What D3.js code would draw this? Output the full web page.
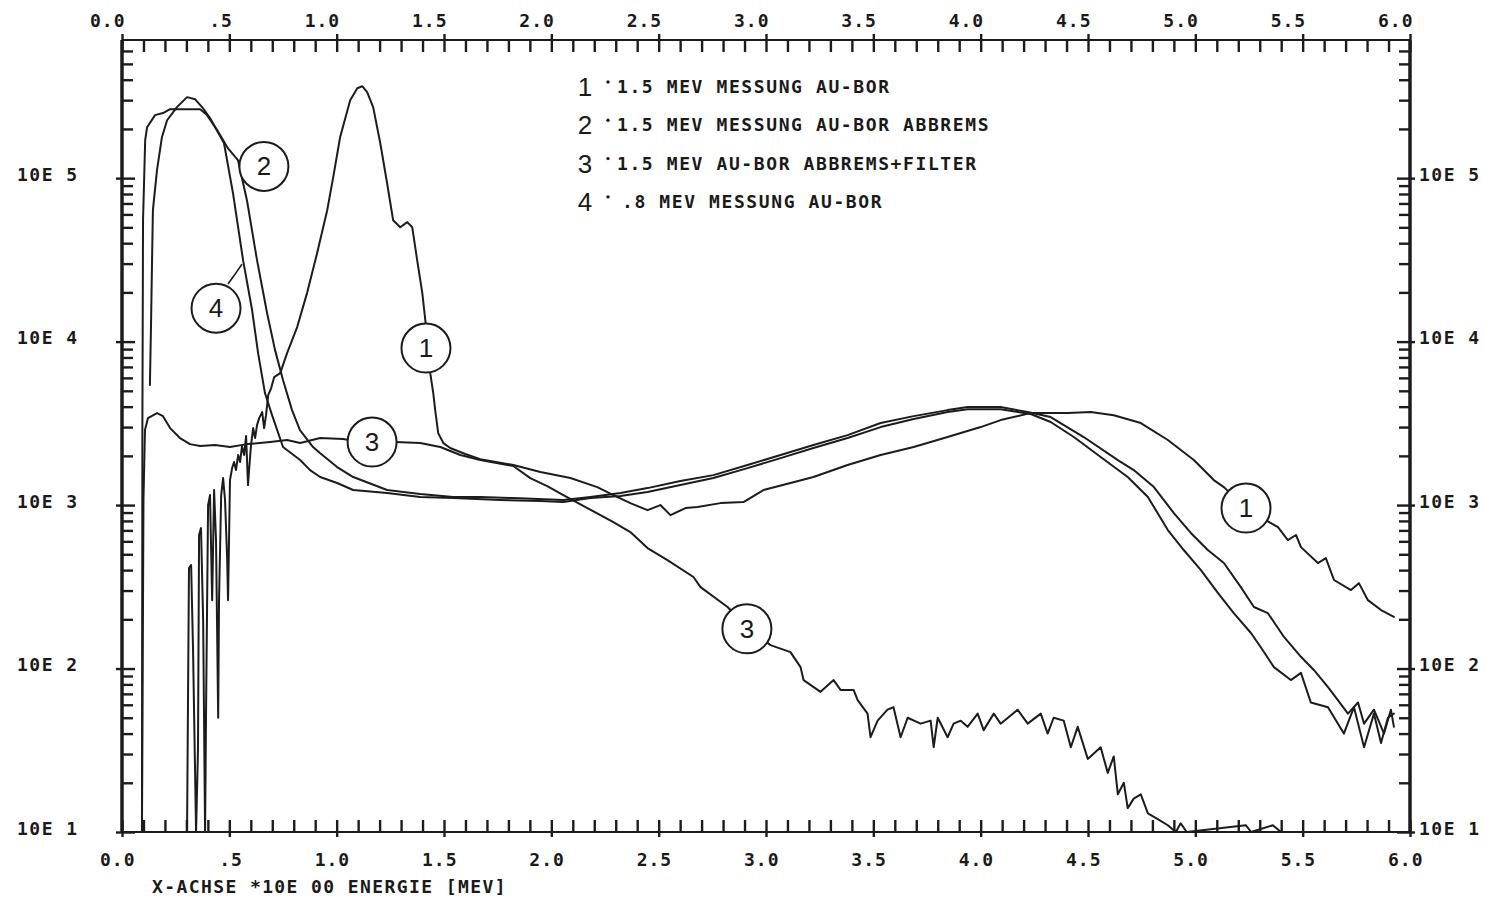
<!DOCTYPE html>
<html>
<head>
<meta charset="utf-8">
<script src="https://cdn.jsdelivr.net/npm/d3@7/dist/d3.min.js"></script>
<style>
  html,body{margin:0;padding:0;background:#fff;}
  svg{display:block;background:#fff;}
  .lbl{font-family:"DejaVu Sans Mono",monospace;font-weight:bold;fill:#1a1a1a;}
  .num{font-family:"Liberation Sans",Arial,sans-serif;fill:#1a1a1a;}
</style>
</head>
<body>
<svg id="chart" width="1485" height="901"></svg>
<script>
// ---------------- DATA ----------------
const xTickValues = [0, 0.5, 1, 1.5, 2, 2.5, 3, 3.5, 4, 4.5, 5, 5.5, 6];
const xTickLabels = ["0.0", ".5", "1.0", "1.5", "2.0", "2.5", "3.0", "3.5", "4.0", "4.5", "5.0", "5.5", "6.0"];
const yTickValues = [10, 100, 1000, 10000, 100000];
const yTickLabels = ["10E 1", "10E 2", "10E 3", "10E 4", "10E 5"];
const xTitle = "X-ACHSE *10E 00 ENERGIE [MEV]";
const legendNumbers = ["1", "2", "3", "4"];
const legendLabels = [
  "1.5 MEV MESSUNG AU-BOR",
  "1.5 MEV MESSUNG AU-BOR ABBREMS",
  "1.5 MEV AU-BOR ABBREMS+FILTER",
  ".8 MEV MESSUNG AU-BOR"
];

// curve 1: 1.5 MEV MESSUNG AU-BOR  [energy MeV, counts]
const series1 = [[0.303,10],[0.312,412],[0.322,430],[0.331,130],[0.345,10],
[0.354,32],[0.359,656],[0.368,723],[0.378,198],[0.387,10],
[0.392,64],[0.401,1000],[0.410,1151],[0.420,262],[0.429,1236],[0.438,611],[0.448,50],[0.452,262],[0.462,1151],
[0.471,1463],[0.480,1074],[0.490,461],[0.494,262],[0.503,1422],[0.513,1683],[0.522,1833],[0.531,1637],[0.541,2024],
[0.550,1833],[0.559,2296],[0.569,2024],[0.578,2643],[0.587,1325],[0.592,1637],[0.601,2330],[0.611,2958],[0.620,2570],
[0.629,3084],[0.639,3404],[0.653,3706],[0.662,2958],[0.671,3548],[0.681,4710],[0.695,5200],[0.709,6070],[0.737,6410],
[0.769,8510],[0.816,12270],[0.862,19800],[0.909,34800],[0.956,63700],[0.984,101400],[1.016,178000],[1.063,300000],
[1.096,355000],[1.119,365000],[1.142,336000],[1.170,272000],[1.203,164000],[1.235,93100],[1.263,55300],[1.296,50100],
[1.329,53800],[1.352,50100],[1.375,31500],[1.399,19800],[1.413,13500],[1.427,9130],[1.436,6410],[1.450,4845],
[1.459,3810],[1.473,2755],[1.497,2395],[1.529,2233],[1.599,2052],[1.669,1910],[1.823,1757],[1.949,1592],[2.089,1463],
[2.214,1288],[2.289,1151],[2.368,1028],[2.448,931],[2.508,1000],[2.555,868],[2.625,959],[2.681,973],[2.788,1028],
[2.895,1043],[2.988,1236],[3.114,1364],[3.221,1484],[3.380,1757],[3.534,2024],[3.688,2265],[3.846,2608],[4.000,3000],
[4.093,3310],[4.233,3655],[4.406,3655],[4.513,3706],[4.620,3548],[4.746,3175],[4.872,2500],[4.993,1885],[5.086,1422],
[5.133,1288],[5.235,959],[5.352,776],[5.385,733],[5.431,611],[5.469,656],[5.492,553],[5.571,442],[5.608,474],
[5.646,348],[5.725,302],[5.762,333],[5.804,262],[5.865,228],[5.925,207]];

// curve 2: 1.5 MEV MESSUNG AU-BOR ABBREMS
const series2 = [[0.093,10],[0.095,3000],[0.098,55300],[0.108,171000],[0.117,205000],[0.154,243000],[0.191,250000],
[0.224,264000],[0.294,264000],[0.364,264000],[0.396,243000],[0.443,197000],[0.494,152000],[0.540,129000],[0.582,73300],
[0.629,31500],[0.676,14900],[0.713,8870],[0.750,5820],[0.792,3810],[0.829,2877],[0.890,2265],[0.922,2080],[1.002,1708],
[1.077,1484],[1.235,1236],[1.389,1167],[1.543,1120],[1.669,1120],[1.823,1104],[2.056,1074],[2.182,1120],[2.322,1184],
[2.448,1270],[2.601,1403],[2.755,1525],[2.914,1757],[3.068,2024],[3.221,2330],[3.380,2680],[3.534,3175],[3.688,3500],
[3.846,3810],[3.939,3975],[4.093,3975],[4.219,3706],[4.326,3453],[4.480,2608],[4.639,1885],[4.713,1637],[4.807,1288],
[4.900,893],[4.979,675],[5.058,531],[5.133,442],[5.212,315],[5.273,238],[5.338,218],[5.413,156],[5.492,118],[5.552,98],
[5.618,77],[5.664,64],[5.711,53],[5.758,62],[5.786,46],[5.832,56],[5.879,40],[5.911,56],[5.925,44]];

// curve 3: 1.5 MEV AU-BOR ABBREMS+FILTER
const series3 = [[0.093,10],[0.100,1074],[0.107,2877],[0.121,3404],[0.163,3655],[0.191,3500],[0.224,2958],[0.270,2570],
[0.317,2360],[0.364,2296],[0.434,2330],[0.503,2265],[0.583,2360],[0.643,2395],[0.690,2430],[0.769,2500],[0.830,2395],
[0.923,2570],[1.030,2535],[1.058,2500],[1.273,2430],[1.389,2395],[1.483,2265],[1.576,2024],[1.669,1885],[1.823,1733],
[1.902,1463],[1.981,1307],[2.056,1151],[2.168,959],[2.289,787],[2.368,684],[2.448,546],[2.541,461],[2.662,363],
[2.695,315],[2.821,238],[2.918,175],[3.021,139],[3.114,126],[3.161,102],[3.175,85],[3.254,72],[3.315,85],[3.347,74],
[3.408,74],[3.427,64],[3.473,53],[3.487,38],[3.520,48],[3.566,56],[3.594,58],[3.627,38],[3.660,50],[3.720,46],
[3.767,48],[3.781,33],[3.800,50],[3.846,38],[3.874,46],[3.907,48],[3.939,44],[3.986,53],[4.014,42],[4.061,53],
[4.093,46],[4.172,56],[4.219,46],[4.280,53],[4.312,40],[4.340,50],[4.387,48],[4.420,33],[4.452,44],[4.499,28],
[4.559,33],[4.592,23],[4.620,29],[4.639,17],[4.667,20],[4.685,14],[4.713,16],[4.746,17],[4.779,13],[4.825,12],
[4.872,11],[4.909,10],[4.932,11.3],[4.960,10],[5.235,11],[5.260,10],[5.361,11],[5.399,10]];

// curve 4: .8 MEV MESSUNG AU-BOR
const series4 = [[0.130,5420],[0.135,12270],[0.140,31500],[0.144,63700],[0.163,112000],[0.186,178000],[0.210,226000],
[0.256,272000],[0.303,313000],[0.340,304000],[0.377,268000],[0.410,233000],[0.447,191000],[0.475,164000],[0.517,80900],
[0.564,31500],[0.606,15600],[0.634,8510],[0.666,4845],[0.699,3548],[0.750,2265],[0.830,1885],[0.876,1637],[0.923,1484],
[1.002,1364],[1.077,1236],[1.235,1184],[1.389,1120],[1.543,1104],[1.762,1074],[1.949,1058],[2.056,1043],[2.182,1104],
[2.322,1135],[2.448,1202],[2.601,1325],[2.755,1463],[2.914,1683],[3.068,1937],[3.221,2233],[3.380,2570],[3.534,3000],
[3.688,3357],[3.846,3706],[3.939,3860],[4.093,3860],[4.233,3605],[4.326,3222],[4.434,2608],[4.559,1968],[4.685,1484],
[4.779,1120],[4.872,703],[4.946,531],[5.026,400],[5.105,290],[5.179,218],[5.259,165],[5.305,135],[5.366,102],
[5.445,85],[5.492,94],[5.538,62],[5.618,58],[5.692,40],[5.739,58],[5.786,33],[5.832,53],[5.865,35],[5.897,50],[5.925,53]];

// circled curve labels [label, energy, counts]
const annotations = [
  ["2", 0.661, 118000],
  ["4", 0.438, 16000],
  ["1", 1.416, 9130],
  ["3", 1.165, 2430],
  ["1", 5.236, 959],
  ["3", 2.911, 175]
];
// leader from circle "4" to its curve
const leader4 = [[0.494, 22500], [0.528, 26000], [0.559, 29800]];

// ---------------- CHART ----------------
const X0 = 122, X1 = 1410, YB = 832, YT = 40;
const x = d3.scaleLinear().domain([0, 6]).range([X0, X1]);
const y = d3.scaleLog().domain([10, 7e5]).range([YB, YT]);
const svg = d3.select("#chart");
const ink = "#1c1c1c";

const minorX = d3.range(0, 61).filter(i => i % 5 !== 0).map(i => i / 10);
const minorY = [];
yTickValues.forEach(b => { for (let m = 2; m <= 9; m++) { const v = m * b; if (v < 7e5) minorY.push(v); } });

function clean(g) {
  g.select(".domain").remove();
  g.selectAll(".tick line").attr("stroke", ink).attr("stroke-width", 2.4);
}
const xLab = d => xTickLabels[xTickValues.indexOf(d)];
const yLab = d => yTickLabels[yTickValues.indexOf(d)];

// frame lines
svg.append("line").attr("x1", X0).attr("x2", X1).attr("y1", YT).attr("y2", YT).attr("stroke", ink).attr("stroke-width", 2);
svg.append("line").attr("x1", X0).attr("x2", X1).attr("y1", YB).attr("y2", YB).attr("stroke", ink).attr("stroke-width", 2);
svg.append("line").attr("x1", X0).attr("x2", X0).attr("y1", YT).attr("y2", YB).attr("stroke", ink).attr("stroke-width", 3.5);
svg.append("line").attr("x1", X1).attr("x2", X1).attr("y1", YT).attr("y2", YB).attr("stroke", ink).attr("stroke-width", 3.5);

// bottom axis
const gB = svg.append("g").attr("transform", `translate(0,${YB})`);
gB.append("g").call(d3.axisBottom(x).tickValues(minorX).tickSize(-12).tickSizeOuter(0).tickFormat("")).call(clean);
const bMaj = gB.append("g").call(d3.axisBottom(x).tickValues(xTickValues).tickSize(-12).tickSizeOuter(0).tickFormat(xLab)).call(clean);
bMaj.selectAll(".tick line").attr("y1", 5);
bMaj.selectAll(".tick text").attr("class", "lbl").attr("text-anchor", "end").attr("x", 13).attr("y", 34).attr("dy", null)
  .style("font-size", "18px").style("letter-spacing", "1px");

// top axis
const gT = svg.append("g").attr("transform", `translate(0,${YT})`);
gT.append("g").call(d3.axisTop(x).tickValues(minorX).tickSize(-12).tickSizeOuter(0).tickFormat("")).call(clean);
const tMaj = gT.append("g").call(d3.axisTop(x).tickValues(xTickValues).tickSize(-12).tickSizeOuter(0).tickFormat(xLab)).call(clean);
tMaj.selectAll(".tick line").attr("y1", -6);
tMaj.selectAll(".tick text").attr("class", "lbl").attr("text-anchor", "end").attr("x", 3).attr("y", -13).attr("dy", null)
  .style("font-size", "18px").style("letter-spacing", "1px");

// left axis
const gL = svg.append("g").attr("transform", `translate(${X0},0)`);
gL.append("g").call(d3.axisLeft(y).tickValues(minorY).tickSize(-11).tickSizeOuter(0).tickFormat("")).call(clean);
const lMaj = gL.append("g").call(d3.axisLeft(y).tickValues(yTickValues).tickSize(-13).tickSizeOuter(0).tickFormat(yLab)).call(clean);
lMaj.selectAll(".tick line").attr("x1", -6);
lMaj.selectAll(".tick text").attr("class", "lbl").attr("text-anchor", "start").attr("x", -105).attr("y", 2).attr("dy", null)
  .style("font-size", "18px").style("letter-spacing", "1.5px");

// right axis
const gR = svg.append("g").attr("transform", `translate(${X1},0)`);
gR.append("g").call(d3.axisRight(y).tickValues(minorY).tickSize(-11).tickSizeOuter(0).tickFormat("")).call(clean);
const rMaj = gR.append("g").call(d3.axisRight(y).tickValues(yTickValues).tickSize(-13).tickSizeOuter(0).tickFormat(yLab)).call(clean);
rMaj.selectAll(".tick line").attr("x1", 5);
rMaj.selectAll(".tick text").attr("class", "lbl").attr("text-anchor", "start").attr("x", 9).attr("y", 2).attr("dy", null)
  .style("font-size", "18px").style("letter-spacing", "1.5px");

// curves
const line = d3.line().x(d => x(d[0])).y(d => y(d[1]));
[series1, series2, series3, series4].forEach(s => {
  svg.append("path").datum(s).attr("d", line).attr("fill", "none")
    .attr("stroke", ink).attr("stroke-width", 2).attr("stroke-linejoin", "round").attr("stroke-linecap", "round");
});

// leader line for label 4
svg.append("path").datum(leader4).attr("d", d3.line().curve(d3.curveBasis).x(d => x(d[0])).y(d => y(d[1])))
  .attr("fill", "none").attr("stroke", ink).attr("stroke-width", 1.6);

// circled labels
const ann = svg.append("g").selectAll("g").data(annotations).join("g")
  .attr("transform", d => `translate(${x(d[1])},${y(d[2])})`);
ann.append("circle").attr("r", 24.5).attr("fill", "#fff").attr("stroke", ink).attr("stroke-width", 2);
ann.append("text").attr("class", "num").attr("text-anchor", "middle").attr("y", 9)
  .style("font-size", "26px").text(d => d[0]);

// legend
const lg = svg.append("g");
legendLabels.forEach((t, i) => {
  const by = 93 + i * 38.3;
  lg.append("text").attr("class", "num").attr("x", 585).attr("y", by + 3).attr("text-anchor", "middle")
    .style("font-size", "26px").text(legendNumbers[i]);
  lg.append("circle").attr("cx", 608).attr("cy", by - 11).attr("r", 1.7).attr("fill", ink);
  lg.append("text").attr("class", "lbl").attr("x", i === 3 ? 622 : 617).attr("y", by)
    .style("font-size", "18px").style("letter-spacing", "1.6px").text(t);
});

// x axis title
svg.append("text").attr("class", "lbl").attr("x", 152).attr("y", 893)
  .style("font-size", "18px").style("letter-spacing", "1.4px").text(xTitle);
</script>
</body>
</html>
